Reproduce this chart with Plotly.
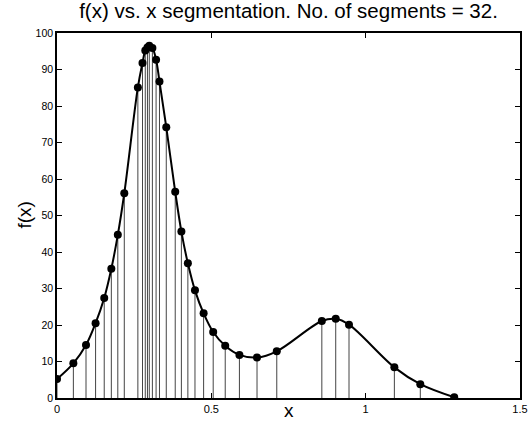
import plotly.graph_objects as go

# segment end points
x_pts = [0.0, 0.053, 0.094, 0.125, 0.153, 0.176, 0.197, 0.218, 0.262, 0.277,
         0.286, 0.293, 0.299, 0.309, 0.321, 0.332, 0.354, 0.383, 0.403, 0.424,
         0.447, 0.475, 0.506, 0.545, 0.591, 0.648, 0.712, 0.858, 0.903, 0.946,
         1.093, 1.177, 1.287]
y_pts = [5.2, 9.5, 14.5, 20.5, 27.4, 35.4, 44.7, 56.1, 85.1, 91.8,
         95.2, 96.0, 96.5, 95.9, 92.7, 86.7, 74.2, 56.5, 45.6, 36.9,
         29.5, 23.2, 18.1, 14.3, 11.8, 11.1, 12.8, 21.1, 21.7, 20.1,
         8.4, 3.8, 0.2]

title_text = "f(x) vs. x segmentation. No. of segments = 32."
x_label = "x"
y_label = "f(x)"
x_ticks = [0, 0.5, 1, 1.5]
x_tick_labels = ["0", "0.5", "1", "1.5"]
y_ticks = list(range(0, 101, 10))

W, H = 532, 434
L, R, T, B = 57, 12, 33, 36

# stems from the axis up to each point
stem_x, stem_y = [], []
for xv, yv in zip(x_pts, y_pts):
    stem_x += [xv, xv, None]
    stem_y += [0, yv, None]

fig = go.Figure()
fig.add_trace(go.Scatter(x=stem_x, y=stem_y, mode="lines",
                         line=dict(color="#444444", width=1),
                         hoverinfo="skip", showlegend=False))
fig.add_trace(go.Scatter(x=x_pts, y=y_pts, mode="lines+markers",
                         line=dict(color="black", width=2, shape="spline", smoothing=1.0),
                         marker=dict(color="black", size=8),
                         showlegend=False))

font_family = "Liberation Sans, Arial, sans-serif"
ph = H - T - B
fig.update_layout(
    template="none",
    width=W, height=H,
    margin=dict(l=L, r=R, t=T, b=B, autoexpand=False),
    paper_bgcolor="white", plot_bgcolor="white",
    font=dict(family=font_family, color="black"),
    title=dict(text=title_text, x=0.5, xref="paper", xanchor="center",
               y=1 - 11 / H, yanchor="middle",
               font=dict(size=20.5, family=font_family, color="black")),
    xaxis=dict(range=[0, 1.5], tickvals=x_ticks, ticktext=x_tick_labels,
               ticks="inside", ticklen=5, tickcolor="black",
               showline=True, linecolor="black", linewidth=1.5, mirror="ticks",
               showgrid=False, zeroline=False, automargin=False,
               tickfont=dict(size=11, family=font_family, color="black")),
    yaxis=dict(range=[0, 100], tickvals=y_ticks,
               ticks="inside", ticklen=5, tickcolor="black",
               showline=True, linecolor="black", linewidth=1.5, mirror="ticks",
               showgrid=False, zeroline=False, automargin=False,
               tickfont=dict(size=10.5, family=font_family, color="black")),
    annotations=[
        dict(text=x_label, xref="paper", yref="paper", x=0.5, y=-(410 - T - ph) / ph,
             xanchor="center", yanchor="middle", showarrow=False,
             font=dict(size=19, family=font_family, color="black")),
        dict(text=y_label, xref="paper", yref="paper", x=-(L - 24) / (W - L - R), y=0.5,
             xanchor="center", yanchor="middle", showarrow=False, textangle=-90,
             font=dict(size=19, family=font_family, color="black")),
    ],
)

fig.write_html("out.html", config={"displayModeBar": False},
               post_script="document.body.style.margin='0';")
